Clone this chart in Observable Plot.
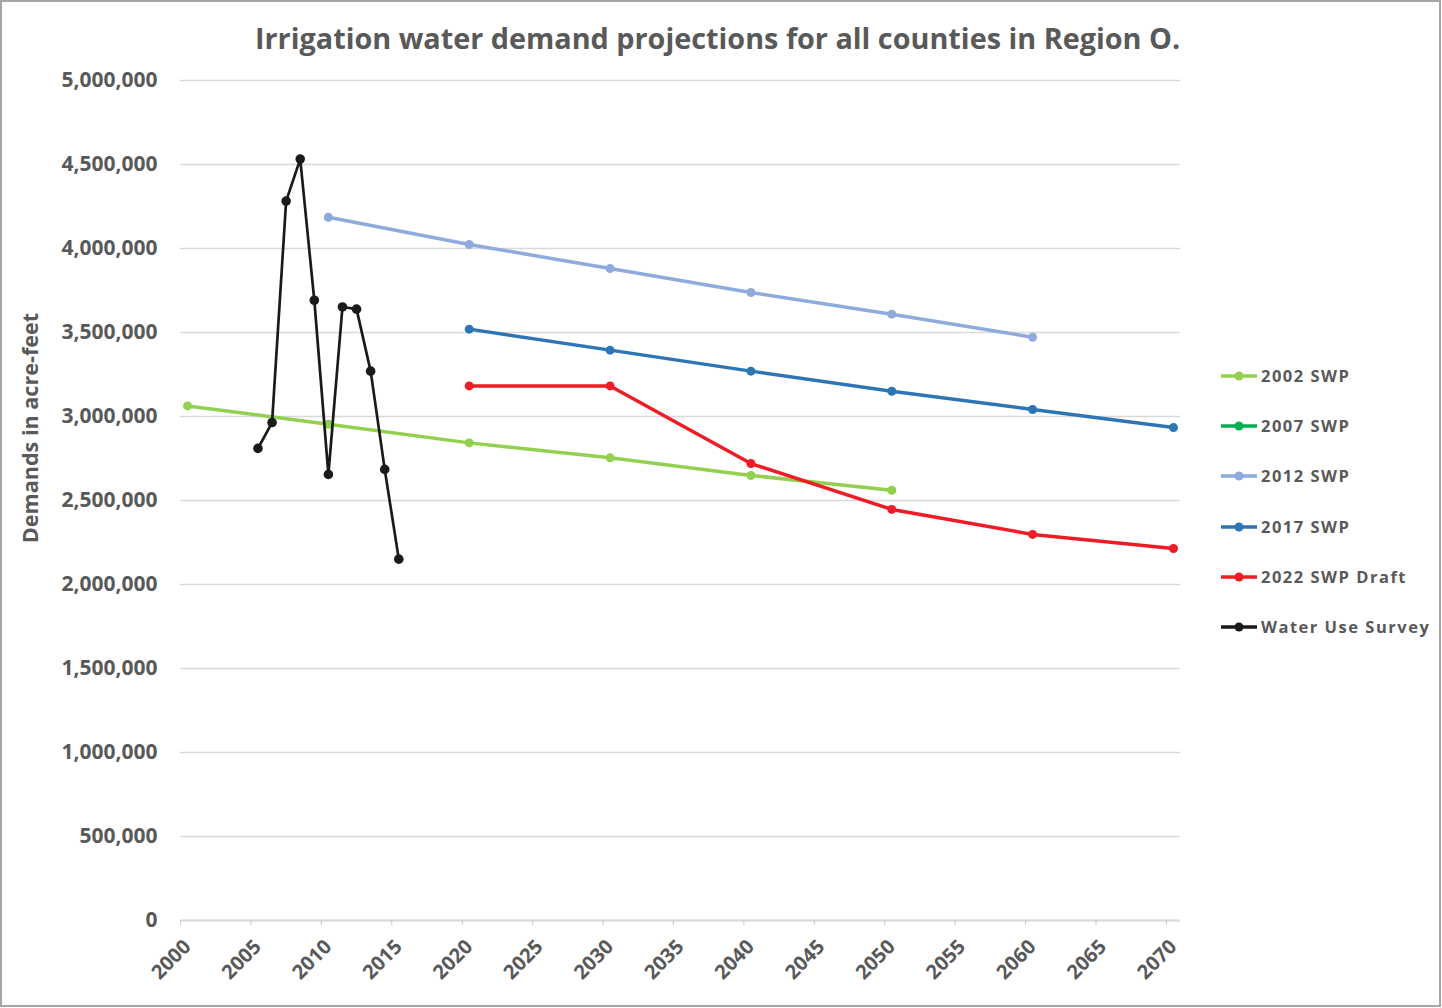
<!DOCTYPE html>
<html>
<head>
<meta charset="utf-8">
<script src="https://cdn.jsdelivr.net/npm/d3@7"></script>
<script src="https://cdn.jsdelivr.net/npm/@observablehq/plot@0.6"></script>
<style>
  html, body { margin: 0; padding: 0; background: #fff; }
  #wrap { position: relative; width: 1442px; height: 1008px; overflow: hidden; font-family: "Open Sans", sans-serif; color: #595959; }
  #chart { position: absolute; left: 0; top: 0; }
  #border { position: absolute; left: 0; top: 0; width: 1441px; height: 1007px; box-sizing: border-box; border: 2px solid #a6a6a6; pointer-events: none; }
  #title { position: absolute; left: 255px; top: 23.5px; font-size: 28.8px; line-height: 1; font-weight: bold; white-space: nowrap; }
  #ytitle { position: absolute; left: 30px; top: 428px; transform: translate(-50%, -50%) rotate(-90deg); font-size: 21.6px; line-height: 1; font-weight: bold; white-space: nowrap; }
  .leg { position: absolute; left: 1221px; height: 20px; display: flex; align-items: center; white-space: nowrap; }
  .leg svg { width: 36px; height: 20px; margin-right: 4px; }
  .leg span { font-size: 16.5px; line-height: 20px; font-weight: bold; letter-spacing: 1.5px; }
</style>
</head>
<body>
<div id="wrap">
  <div id="chart"></div>
  <div id="title">Irrigation water demand projections for all counties in Region O.</div>
  <div id="ytitle">Demands in acre-feet</div>
  <div id="legend"></div>
  <div id="border"></div>
</div>
<script>
// ---- data ----
const seriesNames = ["2002 SWP", "2007 SWP", "2012 SWP", "2017 SWP", "2022 SWP Draft", "Water Use Survey"];
const seriesColors = ["#92D050", "#00B050", "#8FAADC", "#2E75B6", "#EE1C25", "#1A1A1A"];

const years2002 = [2000, 2010, 2020, 2030, 2040, 2050];
const values2002 = [3063000, 2954000, 2843000, 2754000, 2649000, 2561000];

const years2007 = [];
const values2007 = [];

const years2012 = [2010, 2020, 2030, 2040, 2050, 2060];
const values2012 = [4186000, 4024000, 3881000, 3738000, 3609000, 3472000];

const years2017 = [2020, 2030, 2040, 2050, 2060, 2070];
const values2017 = [3520000, 3395000, 3270000, 3150000, 3042000, 2934000];

const years2022 = [2020, 2030, 2040, 2050, 2060, 2070];
const values2022 = [3182000, 3182000, 2720000, 2447000, 2298000, 2214000];

const yearsSurvey = [2005, 2006, 2007, 2008, 2009, 2010, 2011, 2012, 2013, 2014, 2015];
const valuesSurvey = [2810000, 2964000, 4282000, 4532000, 3692000, 2655000, 3652000, 3639000, 3270000, 2685000, 2151000];

const xTicks = [2000, 2005, 2010, 2015, 2020, 2025, 2030, 2035, 2040, 2045, 2050, 2055, 2060, 2065, 2070];
const yTicks = [0, 500000, 1000000, 1500000, 2000000, 2500000, 3000000, 3500000, 4000000, 4500000, 5000000];

// ---- build tables ----
const yearSets = [years2002, years2007, years2012, years2017, years2022, yearsSurvey];
const valueSets = [values2002, values2007, values2012, values2017, values2022, valuesSurvey];
const tables = seriesNames.map((name, i) => yearSets[i].map((yr, j) => ({series: name, year: yr, value: valueSets[i][j]})));

// values are plotted at mid-year
const xOf = d => d.year + 0.5;

const marks = [
  Plot.gridY(yTicks, {stroke: "#d9d9d9", strokeOpacity: 1, strokeWidth: 1.3}),
  Plot.ruleY([0], {stroke: "#d9d9d9", strokeWidth: 2}),
  // tick marks only
  Plot.axisX({ticks: xTicks, tickSize: 5, tickFormat: () => "", stroke: "#c8c8c8", label: null}),
  // tick labels only
  Plot.axisX({ticks: xTicks, tickSize: 0, tickRotate: -45, tickPadding: 23, dx: 7,
    tickFormat: d => String(d), fill: "#595959",
    fontSize: 20, fontWeight: "bold", label: null}),
  Plot.axisY({ticks: yTicks, tickSize: 0, tickPadding: 23, tickFormat: d3.format(","),
    fill: "#595959", fontSize: 21, fontWeight: "bold", label: null})
];

tables.forEach((tbl, i) => {
  if (!tbl.length) return;
  const isSurvey = seriesNames[i] === "Water Use Survey";
  marks.push(Plot.line(tbl, {x: xOf, y: "value", stroke: seriesColors[i], strokeWidth: isSurvey ? 2.7 : 3.5, strokeLinejoin: "round"}));
  marks.push(Plot.dot(tbl, {x: xOf, y: "value", fill: seriesColors[i], r: isSurvey ? 4.8 : 4.5}));
});

const chart = Plot.plot({
  width: 1442,
  height: 1008,
  marginLeft: 180,
  marginRight: 262,
  marginTop: 80,
  marginBottom: 88,
  style: {fontFamily: "'Open Sans', sans-serif", background: "transparent"},
  x: {domain: [2000, 2071], type: "linear"},
  y: {domain: [0, 5000000]},
  marks
});
document.getElementById("chart").appendChild(chart);

// ---- legend ----
const legendY = [375.7, 425.7, 475.7, 526.7, 576.7, 626.7];
const legend = document.getElementById("legend");
seriesNames.forEach((name, i) => {
  const row = document.createElement("div");
  row.className = "leg";
  row.style.top = (legendY[i] - 10) + "px";
  row.innerHTML = `<svg viewBox="0 0 36 20"><line x1="0" x2="36" y1="10" y2="10" stroke="${seriesColors[i]}" stroke-width="3.5"/><circle cx="18" cy="10" r="4.5" fill="${seriesColors[i]}"/></svg><span>${name}</span>`;
  legend.appendChild(row);
});
</script>
</body>
</html>
